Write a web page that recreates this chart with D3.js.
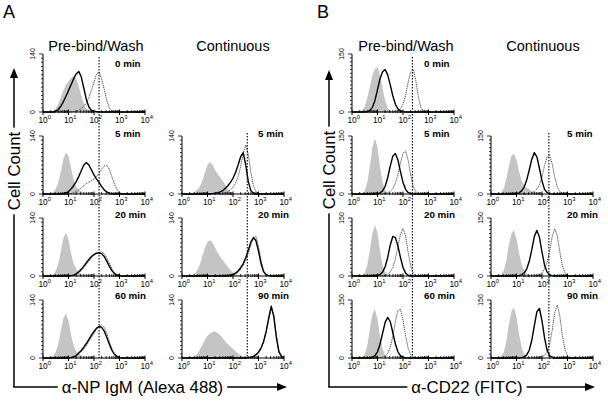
<!DOCTYPE html>
<html><head><meta charset="utf-8">
<script src="https://cdn.jsdelivr.net/npm/d3@7"></script>
<style>html,body{margin:0;padding:0;background:#fff;}svg{display:block;font-family:"Liberation Sans",Arial,Helvetica,sans-serif;}</style>
</head><body><svg id="chart" width="608" height="403"></svg>
<script>
// ---------- DATA ----------
// histogram bins: log10 fluorescence exponents (0.1-decade bins, 10^0 .. 10^4)
const binExponents = [0,0.1,0.2,0.3,0.4,0.5,0.6,0.7,0.8,0.9,1,1.1,1.2,1.3,1.4,1.5,1.6,1.7,1.8,1.9,2,2.1,2.2,2.3,2.4,2.5,2.6,2.7,2.8,2.9,3,3.1,3.2,3.3,3.4,3.5,3.6,3.7,3.8,3.9,4];
const decadeTicks = [1,10,100,1000,10000];
const decadeExp = ["0","1","2","3","4"];
const timesPre = ["0 min","5 min","20 min","60 min"];
const timesCont = ["5 min","20 min","90 min"];
const columnTitles = ["Pre-bind/Wash","Continuous"];
const panelLetters = ["A","B"];
const yMaxA = 140, yMaxB = 150;
const xTitles = ["\u03b1-NP IgM (Alexa 488)","\u03b1-CD22 (FITC)"];
const yTitle = "Cell Count";
const gateA = [158, 363];   // dotted reference line (pre, continuous)
const gateB = [234, 186];

// counts per bin (missing trailing bins = 0)
// Panel A, Pre-bind/Wash
const A_pre_0_control = [0,0,0,0,2,8,20,35,52,65, 74,82,86,80,62,40,20,8,3,1];
const A_pre_0_solid   = [0,0,0,0,0,2,6,14,25,38, 52,66,80,92,98,85,58,30,12,4, 2,1];
const A_pre_0_dotted  = [0,0,0,0,0,0,0,0,0,0, 0,0,1,2,4,8,14,22,35,52, 72,92,96,80,55,28,10,3,1];
const A_pre_5_control = [0,0,0,1,4,12,28,55,85,100, 92,62,35,18,10,6,3,2,1];
const A_pre_5_solid   = [0,0,0,0,0,0,0,0,1,3, 6,12,20,30,42,56,70,76,70,58, 46,36,28,18,10,5,2,1];
const A_pre_5_dotted  = [0,0,0,0,0,0,0,0,0,0, 0,1,3,6,10,15,20,25,29,32, 36,42,50,60,68,69,60,42,24,10, 4,1];
const A_pre_20_control= [0,0,0,1,4,12,30,60,92,105, 88,55,30,16,9,5,3,2,1];
const A_pre_20_solid  = [0,0,0,0,0,0,0,0,0,0, 0,1,2,5,10,16,24,32,40,47, 52,55,56,54,47,36,24,13,6,2, 1];
const A_pre_20_dotted = [0,0,0,0,0,0,0,0,0,0, 0,1,2,4,8,13,20,28,36,44, 50,54,57,58,54,44,31,18,8,3, 1];
const A_pre_60_control= [0,0,0,1,5,14,34,66,96,108, 90,56,30,16,10,6,4,3,2,1];
const A_pre_60_solid  = [0,0,0,0,0,0,0,0,0,0, 0,1,3,6,12,18,26,35,45,55, 64,72,76,74,65,50,34,19,9,4, 1];
const A_pre_60_dotted = [0,0,0,0,0,0,0,0,0,0, 0,1,2,4,9,15,22,30,40,50, 60,70,77,80,74,60,40,22,10,4, 1];
// Panel A, Continuous
const A_cont_5_control = [0,0,0,0,2,5,10,18,32,52, 70,77,70,58,48,40,32,22,12,5, 2,1];
const A_cont_5_solid   = [0,0,0,0,0,0,0,0,0,0, 0,0,1,2,3,5,8,14,20,28, 38,52,70,90,100,70,30,8,2];
const A_cont_5_dotted  = [0,0,0,0,0,0,0,0,0,0, 0,0,0,0,0,0,1,3,6,10, 16,26,42,66,98,118,96,52,20,6, 2];
const A_cont_20_control= [0,0,0,0,2,6,14,28,48,68, 82,86,80,68,56,46,38,30,22,14, 8,4,2,1];
const A_cont_20_solid  = [0,0,0,0,0,0,0,0,0,0, 0,0,0,0,0,0,0,0,1,2, 4,7,12,20,30,44,62,82,93,85, 60,30,10,3,1];
const A_cont_20_dotted = [0,0,0,0,0,0,0,0,0,0, 0,0,0,0,0,0,0,0,0,1, 3,5,9,16,25,38,55,75,90,96, 72,38,14,4,1];
const A_cont_90_control= [0,0,0,0,1,4,10,20,32,44, 54,60,63,64,60,55,48,40,34,28, 22,16,11,7,4,2,1];
const A_cont_90_solid  = [0,0,0,0,0,0,0,0,0,0, 0,0,0,0,0,0,0,0,0,0, 0,0,0,0,0,0,1,2,4,8, 14,24,40,64,96,125,100,50,15,4, 1];
const A_cont_90_dotted = [0,0,0,0,0,0,0,0,0,0, 0,0,0,0,0,0,0,0,0,0, 0,0,0,0,0,0,0,1,3,6, 12,22,38,62,92,120,104,55,18,5, 1];
// Panel B, Pre-bind/Wash
const B_pre_0_control = [0,0,0,1,4,14,36,66,95,112, 116,96,62,30,10,3,1];
const B_pre_0_solid   = [0,0,0,0,0,0,1,4,12,30, 58,86,104,110,96,70,42,20,8,3, 1];
const B_pre_0_dotted  = [0,0,0,0,0,0,0,0,0,0, 0,0,0,0,0,0,0,1,3,8, 20,42,76,104,110,82,40,12,3,1];
const B_pre_5_control = [0,0,0,0,2,8,30,72,120,144, 120,70,30,10,3,1];
const B_pre_5_solid   = [0,0,0,0,0,0,0,0,0,0, 1,3,8,20,42,72,98,105,88,58, 30,12,4,1];
const B_pre_5_dotted  = [0,0,0,0,0,0,0,0,0,0, 0,0,0,1,3,7,14,28,50,80, 104,112,88,50,20,6,2];
const B_pre_20_control= [0,0,0,0,2,8,28,66,110,131, 112,64,28,10,3,1];
const B_pre_20_solid  = [0,0,0,0,0,0,0,0,0,0, 1,4,10,24,48,80,102,100,78,48, 22,8,2];
const B_pre_20_dotted = [0,0,0,0,0,0,0,0,0,0, 0,0,0,2,4,10,22,44,76,108, 123,104,62,26,8,2];
const B_pre_60_control= [0,0,0,1,3,10,32,74,114,126, 100,56,24,8,3,1];
const B_pre_60_solid  = [0,0,0,0,0,0,0,0,2,6, 16,36,64,92,105,94,66,36,16,6, 2];
const B_pre_60_dotted = [0,0,0,0,0,0,0,0,0,0, 0,0,2,5,12,28,56,94,122,126, 98,58,26,9,3,1];
// Panel B, Continuous
const B_cont_5_control = [0,0,0,1,4,14,38,72,98,105, 88,58,34,22,16,12,8,5,3,1];
const B_cont_5_solid   = [0,0,0,0,0,0,0,0,0,0, 1,3,8,18,36,62,90,107,96,66, 34,12,4,1];
const B_cont_5_dotted  = [0,0,0,0,0,0,0,0,0,0, 0,0,0,0,0,1,3,6,12,24, 44,74,96,100,78,44,18,6,2];
const B_cont_20_control= [0,0,0,1,4,14,40,80,110,118, 96,60,30,14,6,3,1];
const B_cont_20_solid  = [0,0,0,0,0,0,0,0,0,0, 0,1,3,8,18,38,68,102,118,100, 62,28,10,3,1];
const B_cont_20_dotted = [0,0,0,0,0,0,0,0,0,0, 0,0,0,0,0,0,0,0,1,3, 8,18,36,64,102,122,104,62,26,8, 2];
const B_cont_90_control= [0,0,0,1,4,14,42,86,120,131, 106,62,28,10,4,2,1];
const B_cont_90_solid  = [0,0,0,0,0,0,0,0,0,0, 0,0,1,3,8,20,46,84,120,128, 96,52,20,6,2];
const B_cont_90_dotted = [0,0,0,0,0,0,0,0,0,0, 0,0,0,0,0,0,0,0,0,1, 3,7,16,36,72,118,137,108,58,22, 6,2];

// ---------- LAYOUT ----------
const svg = d3.select("#chart");
const FONT = '"Liberation Sans",Arial,Helvetica,sans-serif';
const colX0 = {A:[43,182], B:[352,491]};
const rowY0 = [112,194,276,358];
const plotW = 102, plotH = 58;
const timeLabelY = [67,137,218,299];
const timeLabelDx = [72,76];

const plots = [
  {p:"A",c:0,r:0,t:timesPre[0],ctl:A_pre_0_control,sol:A_pre_0_solid,dot:A_pre_0_dotted},
  {p:"A",c:0,r:1,t:timesPre[1],ctl:A_pre_5_control,sol:A_pre_5_solid,dot:A_pre_5_dotted},
  {p:"A",c:0,r:2,t:timesPre[2],ctl:A_pre_20_control,sol:A_pre_20_solid,dot:A_pre_20_dotted},
  {p:"A",c:0,r:3,t:timesPre[3],ctl:A_pre_60_control,sol:A_pre_60_solid,dot:A_pre_60_dotted},
  {p:"A",c:1,r:1,t:timesCont[0],ctl:A_cont_5_control,sol:A_cont_5_solid,dot:A_cont_5_dotted},
  {p:"A",c:1,r:2,t:timesCont[1],ctl:A_cont_20_control,sol:A_cont_20_solid,dot:A_cont_20_dotted},
  {p:"A",c:1,r:3,t:timesCont[2],ctl:A_cont_90_control,sol:A_cont_90_solid,dot:A_cont_90_dotted},
  {p:"B",c:0,r:0,t:timesPre[0],ctl:B_pre_0_control,sol:B_pre_0_solid,dot:B_pre_0_dotted},
  {p:"B",c:0,r:1,t:timesPre[1],ctl:B_pre_5_control,sol:B_pre_5_solid,dot:B_pre_5_dotted},
  {p:"B",c:0,r:2,t:timesPre[2],ctl:B_pre_20_control,sol:B_pre_20_solid,dot:B_pre_20_dotted},
  {p:"B",c:0,r:3,t:timesPre[3],ctl:B_pre_60_control,sol:B_pre_60_solid,dot:B_pre_60_dotted},
  {p:"B",c:1,r:1,t:timesCont[0],ctl:B_cont_5_control,sol:B_cont_5_solid,dot:B_cont_5_dotted},
  {p:"B",c:1,r:2,t:timesCont[1],ctl:B_cont_20_control,sol:B_cont_20_solid,dot:B_cont_20_dotted},
  {p:"B",c:1,r:3,t:timesCont[2],ctl:B_cont_90_control,sol:B_cont_90_solid,dot:B_cont_90_dotted}
];

function series(arr){ return binExponents.map((e,i)=>({v:Math.pow(10,e), c: arr[i]||0})); }

plots.forEach(pl=>{
  const x0 = colX0[pl.p][pl.c], y0 = rowY0[pl.r];
  const ymax = pl.p==="A" ? yMaxA : yMaxB;
  const x = d3.scaleLog().domain([1,1e4]).range([x0, x0+plotW]);
  const y = d3.scaleLinear().domain([0,ymax]).range([y0, y0-plotH]);
  const g = svg.append("g");
  const area = d3.area().x(d=>x(d.v)).y0(y(0)).y1(d=>y(d.c));
  const line = d3.line().x(d=>x(d.v)).y(d=>y(d.c));
  g.append("path").attr("d", area(series(pl.ctl))).attr("fill","#c4c4c4");
  g.append("path").attr("d", line(series(pl.dot))).attr("fill","none")
    .attr("stroke","#3a3a3a").attr("stroke-width",0.9).attr("stroke-dasharray","1.2,0.8");
  g.append("path").attr("d", line(series(pl.sol))).attr("fill","none")
    .attr("stroke","#000").attr("stroke-width",1.4).attr("stroke-linejoin","round");

  // y axis
  g.append("line").attr("x1",x0).attr("x2",x0).attr("y1",y(0)).attr("y2",y(ymax)).attr("stroke","#000").attr("stroke-width",1);
  const yt = d3.range(0, ymax+1, 10);
  g.selectAll(null).data(yt).join("line")
    .attr("x1",x0).attr("x2",d=> (d===0||d===ymax)? x0-4 : x0-2)
    .attr("y1",d=>y(d)).attr("y2",d=>y(d)).attr("stroke","#000").attr("stroke-width",0.8);
  [0, ymax].forEach(v=>{
    g.append("text").attr("transform",`translate(${x0-8},${y(v)}) rotate(-90)`)
      .attr("text-anchor","middle").attr("font-size",7).attr("font-family",FONT).text(v);
  });
  // x axis
  g.append("line").attr("x1",x0).attr("x2",x0+plotW).attr("y1",y0).attr("y2",y0).attr("stroke","#000").attr("stroke-width",1.2);
  const minor = [];
  decadeTicks.slice(0,4).forEach(d=>{ for(let k=2;k<10;k++) minor.push(d*k); });
  g.selectAll(null).data(minor).join("line")
    .attr("x1",d=>x(d)).attr("x2",d=>x(d)).attr("y1",y0-2).attr("y2",y0+1)
    .attr("stroke","#000").attr("stroke-width",0.8);
  g.selectAll(null).data(decadeTicks).join("line")
    .attr("x1",d=>x(d)).attr("x2",d=>x(d)).attr("y1",y0-2.5).attr("y2",y0+3)
    .attr("stroke","#000").attr("stroke-width",1);
  decadeTicks.forEach((d,i)=>{
    const t = g.append("text").attr("x",x(d)-4.6).attr("y",y0+11)
      .attr("font-size",8.3).attr("font-family",FONT);
    t.append("tspan").text("10");
    t.append("tspan").attr("font-size",5.8).attr("dy",-4).text(decadeExp[i]);
  });
  // time label
  g.append("text").attr("x",x0+timeLabelDx[pl.c]).attr("y",timeLabelY[pl.r])
    .attr("font-size",9.8).attr("font-weight","bold").attr("font-family",FONT).text(pl.t);
});

// gate (reference) lines
[["A",gateA],["B",gateB]].forEach(([p,gates])=>{
  gates.forEach((gv,c)=>{
    const x = d3.scaleLog().domain([1,1e4]).range([colX0[p][c], colX0[p][c]+plotW]);
    const top = c===0 ? rowY0[0]-plotH+3 : rowY0[1]-plotH-3;
    svg.append("line").attr("x1",x(gv)).attr("x2",x(gv)).attr("y1",top).attr("y2",rowY0[3])
      .attr("stroke","#000").attr("stroke-width",1.1).attr("stroke-dasharray","1.5,1.5");
  });
});

// column titles & panel letters
const titleX = {A:[96,233], B:[406,543]};
["A","B"].forEach((p,pi)=>{
  columnTitles.forEach((t,c)=>{
    svg.append("text").attr("x",titleX[p][c]).attr("y",51).attr("text-anchor","middle")
      .attr("font-size",14.5).attr("font-family",FONT).text(t);
  });
});
svg.append("text").attr("x",3).attr("y",18).attr("font-size",18).attr("font-family",FONT).text(panelLetters[0]);
svg.append("text").attr("x",317).attr("y",18).attr("font-size",18).attr("font-family",FONT).text(panelLetters[1]);

// big axes with arrows
const bigAxes = [
  {vx:14, top:68, by:387, right:287, ycy:171, xcx:142.5, xt:xTitles[0]},
  {vx:329, top:70, by:387, right:595, ycy:170, xcx:467, xt:xTitles[1]}
];
bigAxes.forEach(a=>{
  svg.append("line").attr("x1",a.vx).attr("x2",a.vx).attr("y1",a.by).attr("y2",a.top+8).attr("stroke","#000").attr("stroke-width",1.5);
  svg.append("line").attr("x1",a.vx-0.75).attr("x2",a.right-8).attr("y1",a.by).attr("y2",a.by).attr("stroke","#000").attr("stroke-width",1.5);
  svg.append("path").attr("d",`M${a.vx},${a.top} L${a.vx-4},${a.top+10} L${a.vx+4},${a.top+10} Z`).attr("fill","#000");
  svg.append("path").attr("d",`M${a.right},${a.by} L${a.right-10},${a.by-4} L${a.right-10},${a.by+4} Z`).attr("fill","#000");
  // y title
  const yt = svg.append("text").attr("transform",`translate(${a.vx+6},${a.ycy}) rotate(-90)`)
    .attr("text-anchor","middle").attr("font-size",16.8).attr("font-family",FONT).text(yTitle);
  const yb = yt.node().getBBox();
  svg.insert("rect", () => yt.node()).attr("x",a.vx-3).attr("y",a.ycy-yb.width/2-4).attr("width",6).attr("height",yb.width+8).attr("fill","#fff");
  // x title
  const xt = svg.append("text").attr("x",a.xcx).attr("y",a.by+6).attr("text-anchor","middle")
    .attr("font-size",16.8).attr("font-family",FONT).text(a.xt);
  const xb = xt.node().getBBox();
  svg.insert("rect", () => xt.node()).attr("x",xb.x-4).attr("y",a.by-3).attr("width",xb.width+8).attr("height",6).attr("fill","#fff");
});
</script>
</body></html>
